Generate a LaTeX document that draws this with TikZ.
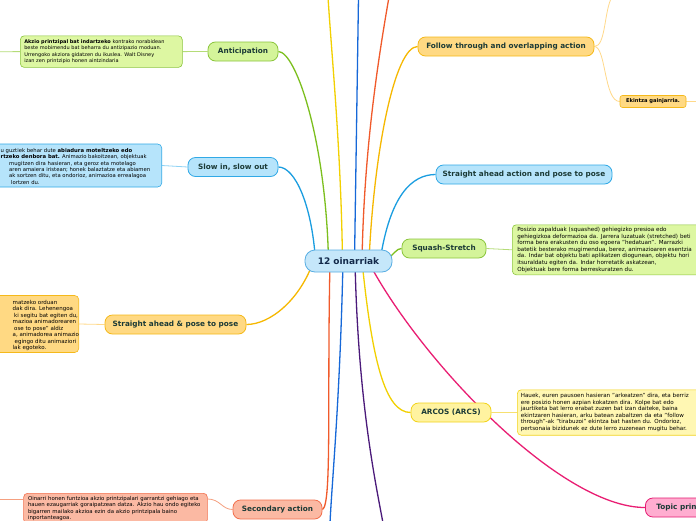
\documentclass[tikz,border=0pt]{standalone}
\usepackage{fontspec}
\setmainfont{DejaVu Sans}
\usetikzlibrary{backgrounds}
\definecolor{ttxt}{HTML}{1B3A36}
\definecolor{ctxt}{HTML}{12294A}
\definecolor{cfill}{HTML}{C5E7FA}
\definecolor{cborder}{HTML}{58AEE3}
\definecolor{gfill}{HTML}{D4F49A}
\definecolor{gnfill}{HTML}{DDF7A2}
\definecolor{gborder}{HTML}{8CC63E}
\definecolor{gline}{HTML}{7CBF1E}
\definecolor{gnline}{HTML}{B5DC78}
\definecolor{bfill}{HTML}{B6E4FB}
\definecolor{bborder}{HTML}{31A9E6}
\definecolor{bline}{HTML}{1A9DE0}
\definecolor{bnline}{HTML}{8FD3F5}
\definecolor{dbline}{HTML}{1668D8}
\definecolor{ofill}{HTML}{FFD983}
\definecolor{oborder}{HTML}{F5B91A}
\definecolor{oline}{HTML}{F6B800}
\definecolor{online}{HTML}{FFD98A}
\definecolor{yfill}{HTML}{FFF3A0}
\definecolor{ynfill}{HTML}{FFF7B3}
\definecolor{yborder}{HTML}{F2D31B}
\definecolor{yline}{HTML}{F2D000}
\definecolor{ynline}{HTML}{F7E070}
\definecolor{rfill}{HTML}{FBB9A3}
\definecolor{rborder}{HTML}{F2704E}
\definecolor{rline}{HTML}{F05A2B}
\definecolor{rnline}{HTML}{F5A080}
\definecolor{pfill}{HTML}{FFADD0}
\definecolor{pborder}{HTML}{E51B72}
\definecolor{pline}{HTML}{E91E73}
\definecolor{vline}{HTML}{4B1A7A}
\begin{document}
\begin{tikzpicture}[x=1pt,y=-1pt,
  topic/.style={draw, rounded corners=7.5pt, line width=0.8pt,
    font=\fontsize{7.3}{8}\selectfont\bfseries, text=ttxt,
    minimum height=19pt, inner sep=0pt},
  note/.style={draw, rounded corners=4pt, line width=0.6pt,
    font=\fontsize{5.6}{6.6}\selectfont, align=left, text=black},
  ntext/.style={font=\fontsize{5.6}{6.6}\selectfont, align=left, text=black, inner sep=0pt},
  branch/.style={line width=1.3pt},
  subline/.style={line width=0.8pt}]
\useasboundingbox (0,0) rectangle (696,520);

% central node
\node[topic, fill=cfill, draw=cborder, rounded corners=10pt, minimum width=87pt,
  minimum height=22pt, font=\fontsize{9}{10}\selectfont\bfseries, text=ctxt] (c) at (348.5,261) {12 oinarriak};

% main topics
\node[topic, fill=gfill, draw=gborder, minimum width=70pt] (antic) at (243,51.5) {Anticipation};
\node[topic, fill=bfill, draw=bborder, minimum width=90pt] (slow) at (233,167) {Slow in, slow out};
\node[topic, fill=ofill, draw=oborder, minimum width=141pt] (sapl) at (175.5,324.5) {Straight ahead \& pose to pose};
\node[topic, fill=rfill, draw=rborder, minimum width=89pt] (sec) at (277.5,509.5) {Secondary action};
\node[topic, fill=gfill, draw=gborder, minimum width=84pt] (squash) at (444,248.5) {Squash-Stretch};
\node[topic, fill=yfill, draw=yborder, minimum width=80pt] (arcos) at (451,412.5) {ARCOS (ARCS)};
\node[topic, fill=ofill, draw=oborder, minimum width=176pt] (follow) at (506,46.5) {Follow through and overlapping action};
\node[topic, fill=bfill, draw=bborder, minimum width=176pt] (sar) at (524,174.5) {Straight ahead action and pose to pose};
\node[topic, fill=pfill, draw=pborder, anchor=west, inner xsep=11pt] (topicp) at (645,507.5) {Topic principal};
\node[topic, fill=ofill, draw=oborder, line width=0.6pt, rounded corners=2.5pt, minimum width=66pt,
  minimum height=12pt, font=\fontsize{5.2}{6}\selectfont\bfseries, text=black] (ekintza) at (653,101.5) {Ekintza gainjarria.};

% notes
\node[note, fill=gnfill, draw=gborder, anchor=north west, text width=154pt, inner xsep=4pt, inner ysep=3.5pt,
  font=\fontsize{5}{6.6}\selectfont]
  (antnote) at (20,35.5) {\textbf{Akzio printzipal bat indartzeko} kontrako norabidean\\
beste mobimendu bat beharra du antizipazio moduan.\\
Urrengoko akziora gidatzen du ikuslea. Walt Disney\\
izan zen printzipio honen aintzindaria};

\node[note, fill=bfill, draw=bborder, anchor=east, minimum width=200pt, minimum height=43pt] (slownote) at (162,165.5) {};
\node[ntext, anchor=north west, font=\fontsize{5.3}{6.4}\selectfont] (slowtext) at (0.5,148) {u guztiek behar dute \textbf{abiadura moteltzeko edo}\\
\textbf{rtzeko denbora bat.} Animazio bakoitzean, objektuak\\
\hspace*{8.5pt}mugitzen dira hasieran, eta geroz eta motelago\\
\hspace*{8.5pt}aren amaiera iristean; honek balaztatze eta abiamen\\
\hspace*{8.5pt}ak sortzen ditu, eta ondorioz, animazioa errealagoa\\
\hspace*{10.5pt}lortzen du.};

\node[note, fill=ofill, draw=oborder, anchor=east, minimum width=140pt, minimum height=57pt] (saplnote) at (79,324) {};
\node[ntext, anchor=north west, font=\fontsize{5.5}{6.5}\selectfont] (sapltext) at (12.5,300) {matzeko orduan\\
dak dira. Lehenengoa\\
\hspace*{1.5pt}ki segitu bat egiten du,\\
mazioa animadorearen\\
\hspace*{1.5pt}ose to pose" aldiz\\
a, animadorea animazio\\
\hspace*{2pt}egingo ditu animaziori\\
lak egoteko.};

\node[note, fill=gnfill, draw=gborder, anchor=north west, text width=210pt, inner xsep=5pt, inner ysep=2.5pt]
  (squashnote) at (512,224.5) {Posizio zapalduak (squashed) gehiegizko presioa edo\\
gehiegizkoa deformazioa da. Jarrera luzatuak (stretched) beti\\
forma bera erakusten du oso egoera "hedatuan". Marrazki\\
batetik besterako mugimendua, berez, animazioaren esentzia\\
da. Indar bat objektu bati aplikatzen diogunean, objektu hori\\
itsuraldatu egiten da. Indar horretatik askatzean,\\
Objektuak bere forma berreskuratzen du.};

\node[note, fill=ynfill, draw=yborder, anchor=north west, text width=210pt, inner xsep=3.5pt, inner ysep=3.5pt]
  (arcosnote) at (517,389.5) {Hauek, euren pausoen hasieran "arkeatzen" dira, eta berriz\\
ere posizio honen azpian kokatzen dira. Kolpe bat edo\\
jaurtiketa bat lerro erabat zuzen bat izan daiteke, baina\\
ekintzaren hasieran, arku batean zabaltzen da eta "follow\\
through"-ak "tirabuzoi" ekintza bat hasten du. Ondorioz,\\
pertsonaia bizidunek ez dute lerro zuzenean mugitu behar.};

\node[note, fill=rfill, draw=rborder, anchor=north west, text width=175pt, inner xsep=4.4pt, inner ysep=3pt,
  font=\fontsize{5.4}{6.3}\selectfont]
  (secnote) at (23.3,493) {Oinarri honen funtzioa akzio printzipalari garrantzi gehiago eta\\
hauen ezaugarriak goraipatzean datza. Akzio hau ondo egiteko\\
bigarren mailako akzioa ezin da akzio printzipala baino\\
inportanteagoa.};

% free ends
\coordinate (ty) at (328,-3);
\coordinate (tb) at (358.5,-3);
\coordinate (tr) at (389,-3);
\coordinate (bb) at (330,523);
\coordinate (bv) at (383,523);
\coordinate (fu) at (612,-3);
\coordinate (er) at (698,101.5);
\coordinate (al) at (-2,51.7);
\coordinate (sl) at (-2,499);

\begin{scope}[on background layer]
\fill[white] (0,0) rectangle (696,520);
% branches from the centre
\draw[branch, gline] (antic.east) .. controls (296,52) and (326,140) .. ([xshift=-20pt]c.center);
\draw[branch, bline] (slow.east) .. controls (295,167) and (312,205) .. ([xshift=-33pt]c.center);
\draw[branch, yline] ([xshift=-6pt]c.center) .. controls (341,150) and (332,60) .. (ty);
\draw[branch, dbline] ([xshift=6pt]c.center) -- (tb);
\draw[branch, rline] ([xshift=13.5pt]c.center) .. controls (364,150) and (378,60) .. (tr);
\draw[branch, oline] ([xshift=20.5pt]c.center) .. controls (374,150) and (395,46.5) .. (follow.west);
\draw[branch, bline] ([xshift=31.5pt]c.center) .. controls (390,195) and (412,174.5) .. (sar.west);
\draw[branch, gline] ([xshift=36pt]c.center) .. controls (395,254) and (396,248.5) .. (squash.west);
\draw[branch, oline] ([xshift=-35pt]c.center) .. controls (300,300) and (270,324.5) .. (sapl.east);
\draw[branch, rline] ([xshift=-18.5pt]c.center) .. controls (327,400) and (332,505) .. (sec.east);
\draw[branch, dbline] ([xshift=-5.5pt]c.center) .. controls (340,400) and (332,480) .. (bb);
\draw[branch, vline] ([xshift=6.5pt]c.center) .. controls (358,400) and (375,480) .. (bv);
\draw[branch, yline] ([xshift=13.5pt]c.center) .. controls (372,360) and (385,412.5) .. (arcos.west);
\draw[branch, pline] ([xshift=19.5pt]c.center) .. controls (420,360) and (560,507.5) .. (topicp.west);
% sub branches
\draw[subline, online] (follow.east) .. controls (606,46.5) and (604,10) .. (fu);
\draw[subline, online] (follow.east) .. controls (606,46.5) and (604,101.5) .. (ekintza.west);
\draw[subline, online] (ekintza.east) -- (er);
% note connectors
\draw[subline, gnline] (antnote.east) -- (antic.west);
\draw[subline, gnline] (antnote.west) -- (al);
\draw[subline, bnline] (slownote.east) -- (slow.west);
\draw[subline, online] (saplnote.east) -- (sapl.west);
\draw[subline, gnline] (squash.east) -- (squashnote.west);
\draw[subline, ynline] (arcos.east) -- (arcosnote.west);
\draw[subline, rnline] ([yshift=-6pt]secnote.north east) .. controls (220,499) and (222,509.5) .. (sec.west);
\draw[subline, rnline] ([yshift=-6pt]secnote.north west) -- (sl);
\end{scope}
\end{tikzpicture}
\end{document}
